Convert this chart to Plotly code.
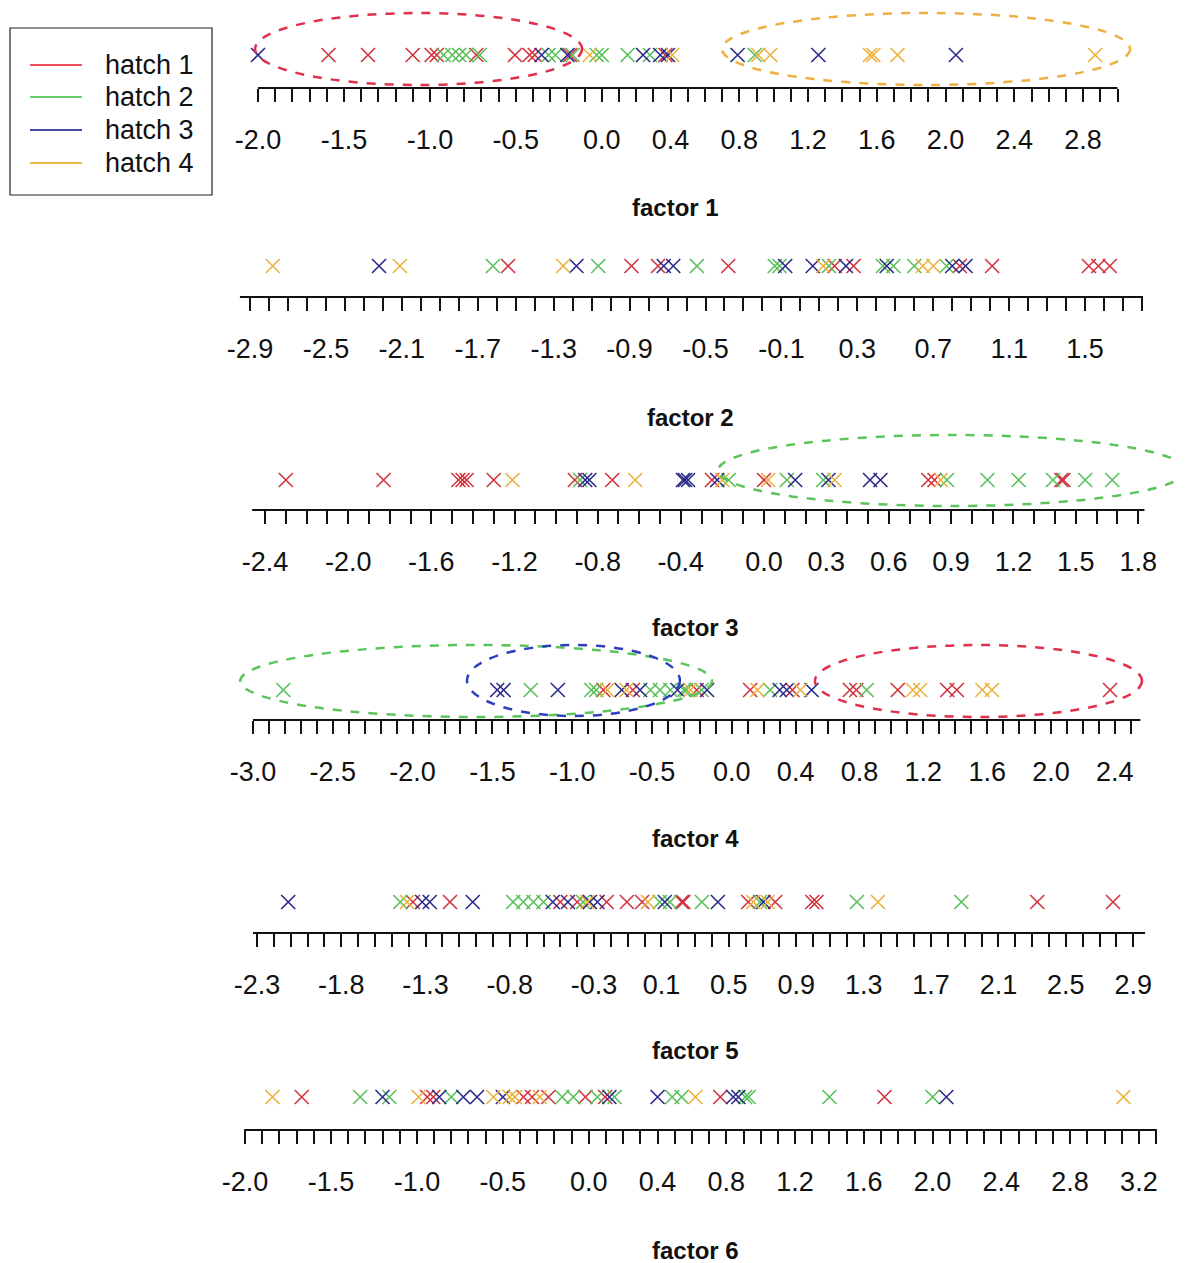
import numpy as np
import plotly.graph_objects as go

W, H = 1187, 1263
OX, OY = 8, 8  # page body margin offset

hatch_names = ["hatch 1", "hatch 2", "hatch 3", "hatch 4"]
marker_colors = ["#d3323e", "#58c058", "#2a2a8a", "#ebb23a"]
legend_colors = ["#f05058", "#6ccc6c", "#4b4ba6", "#f0b840"]

# ---- data: factor scores per hatch (red, green, blue, orange) ----
f1_h1 = [-1.59, -1.36, -1.10, -0.99, -0.96, -0.73, -0.505, -0.42, -0.39, -0.185, 0.37]
f1_h2 = [-0.92, -0.87, -0.83, -0.79, -0.71, -0.31, -0.27, -0.17, -0.03, 0.0, 0.15, 0.28, 0.89]
f1_h3 = [-2.0, -0.35, -0.20, 0.24, 0.34, 0.385, 0.79, 1.26, 2.06]
f1_h4 = [-0.07, 0.41, 0.91, 0.98, 1.56, 1.58, 1.72, 2.87]

f2_h1 = [-1.54, -0.89, -0.75, -0.38, 0.18, 0.28, 0.84, 1.01, 1.52, 1.57, 1.63]
f2_h2 = [-1.62, -1.065, -0.545, -0.135, -0.11, 0.15, 0.435, 0.49, 0.60, 0.77]
f2_h3 = [-2.22, -1.18, -0.72, -0.67, -0.08, 0.065, 0.24, 0.455, 0.80, 0.87]
f2_h4 = [-2.78, -2.11, -1.25, 0.12, 0.645, 0.70]

f3_h1 = [-2.30, -1.83, -1.47, -1.45, -1.43, -1.30, -0.91, -0.73, -0.25, 0.0, 0.79, 0.82, 1.43, 1.44]
f3_h2 = [-0.885, -0.17, 0.11, 0.285, 0.88, 1.075, 1.225, 1.39, 1.545, 1.675]
f3_h3 = [-0.86, -0.84, -0.39, -0.38, -0.365, -0.225, 0.15, 0.31, 0.51, 0.56]
f3_h4 = [-1.21, -0.62, -0.20, 0.02, 0.34, 0.85]

f4_h1 = [-0.805, -0.62, -0.22, 0.115, 0.38, 0.74, 0.78, 1.04, 1.35, 1.41, 2.37]
f4_h2 = [-2.81, -1.26, -0.88, -0.85, -0.51, -0.45, -0.385, -0.30, -0.285, -0.19, 0.24, 0.845]
f4_h3 = [-1.47, -1.43, -1.09, -0.69, -0.575, -0.34, -0.155, 0.30, 0.345, 0.50]
f4_h4 = [-0.78, -0.66, -0.26, 0.16, 0.43, 1.135, 1.18, 1.57, 1.63]

f5_h1 = [-1.375, -1.155, -0.50, -0.40, -0.225, -0.105, -0.015, 0.22, 0.23, 0.615, 0.775, 0.995, 1.02, 2.33, 2.78]
f5_h2 = [-1.45, -0.78, -0.72, -0.66, -0.60, -0.365, 0.09, 0.15, 0.34, 0.685, 1.26, 1.88]
f5_h3 = [-2.115, -1.32, -1.275, -1.02, -0.545, -0.455, -0.325, -0.28, 0.12, 0.435, 0.705]
f5_h4 = [-1.41, -0.34, 0.02, 0.645, 0.73, 1.385]

f6_h1 = [-1.67, -0.94, -0.905, -0.38, -0.33, -0.235, -0.02, 0.095, 0.765, 1.72]
f6_h2 = [-1.33, -1.16, -0.80, -0.155, -0.09, 0.05, 0.15, 0.485, 0.54, 0.91, 0.93, 1.40, 2.0]
f6_h3 = [-1.20, -0.87, -0.73, -0.65, -0.50, 0.12, 0.40, 0.84, 0.87, 2.08]
f6_h4 = [-1.84, -0.99, -0.555, -0.46, -0.43, -0.285, 0.62, 3.11]

# ---- tick labels per factor ----
f1_labels = ["-2.0", "-1.5", "-1.0", "-0.5", "0.0", "0.4", "0.8", "1.2", "1.6", "2.0", "2.4", "2.8"]
f2_labels = ["-2.9", "-2.5", "-2.1", "-1.7", "-1.3", "-0.9", "-0.5", "-0.1", "0.3", "0.7", "1.1", "1.5"]
f3_labels = ["-2.4", "-2.0", "-1.6", "-1.2", "-0.8", "-0.4", "0.0", "0.3", "0.6", "0.9", "1.2", "1.5", "1.8"]
f4_labels = ["-3.0", "-2.5", "-2.0", "-1.5", "-1.0", "-0.5", "0.0", "0.4", "0.8", "1.2", "1.6", "2.0", "2.4"]
f5_labels = ["-2.3", "-1.8", "-1.3", "-0.8", "-0.3", "0.1", "0.5", "0.9", "1.3", "1.7", "2.1", "2.5", "2.9"]
f6_labels = ["-2.0", "-1.5", "-1.0", "-0.5", "0.0", "0.4", "0.8", "1.2", "1.6", "2.0", "2.4", "2.8", "3.2"]

factor_titles = ["factor 1", "factor 2", "factor 3", "factor 4", "factor 5", "factor 6"]
factor_data = [
    [f1_h1, f1_h2, f1_h3, f1_h4],
    [f2_h1, f2_h2, f2_h3, f2_h4],
    [f3_h1, f3_h2, f3_h3, f3_h4],
    [f4_h1, f4_h2, f4_h3, f4_h4],
    [f5_h1, f5_h2, f5_h3, f5_h4],
    [f6_h1, f6_h2, f6_h3, f6_h4],
]
factor_labels = [f1_labels, f2_labels, f3_labels, f4_labels, f5_labels, f6_labels]

# ---- layout geometry per panel (page pixels / scale) ----
panels = [
    dict(zero=601.8, scale=171.9, mark=55, axis=88, title_x=675, title_y=208, tick0=-2.0, tick1=3.0, line=(-2.0, 3.0)),
    dict(zero=800.4, scale=189.8, mark=266, axis=297, title_x=690, title_y=417, tick0=-2.9, tick1=1.8, line=(-2.953, 1.805)),
    dict(zero=764.0, scale=207.9, mark=480, axis=510, title_x=695, title_y=627, tick0=-2.4, tick1=1.8, line=(-2.462, 1.83)),
    dict(zero=731.8, scale=159.6, mark=690, axis=720, title_x=695, title_y=838, tick0=-3.0, tick1=2.5, line=(-3.0, 2.56)),
    dict(zero=644.6, scale=168.5, mark=902, axis=933, title_x=695, title_y=1050, tick0=-2.3, tick1=2.9, line=(-2.324, 2.97)),
    dict(zero=588.8, scale=171.9, mark=1097, axis=1130, title_x=695, title_y=1250, tick0=-2.0, tick1=3.3, line=(-2.005, 3.305)),
]

# dashed ellipses: (panel index, x from, x to, top px, bottom px, color)
ellipses = [
    (0, -2.017, -0.115, 13, 85, "#e0304c"),
    (0, 0.699, 3.073, 13, 85, "#eeb040"),
    (2, -0.221, 2.03, 435, 506, "#5cc45c"),
    (3, -3.08, -0.124, 645, 717, "#5cc45c"),
    (3, -1.659, -0.325, 645, 716, "#2f3fc0"),
    (3, 0.521, 2.57, 645, 717, "#e0304c"),
]

FONT = "Liberation Sans, Arial, sans-serif"


def px(x):
    return (x - OX) / W


def py(y):
    return min(1.0, max(0.0, 1 - (y - OY) / H))


fig = go.Figure()
layout = dict(
    width=W, height=H, margin=dict(l=0, r=0, t=0, b=0),
    paper_bgcolor="white", plot_bgcolor="white",
    font=dict(family=FONT, color="#111111"),
    showlegend=False,
)
shapes = []
annotations = []

for i, p in enumerate(panels):
    n = "" if i == 0 else str(i + 1)
    xa, ya = "x" + n, "y" + n
    top_px = max(p["mark"] - 50, OY)
    zero = p["zero"] - OX
    for k in range(4):
        xs = factor_data[i][k]
        fig.add_trace(go.Scatter(
            x=xs, y=[0] * len(xs), mode="markers", xaxis=xa, yaxis=ya,
            name=hatch_names[k], hoverinfo="x+name",
            marker=dict(symbol="x-thin", size=14, color=marker_colors[k],
                        line=dict(width=1.6, color=marker_colors[k])),
        ))
    tv = np.round(np.arange(round(p["tick0"] * 10), round(p["tick1"] * 10) + 1) / 10.0, 1)
    labs = {round(float(s), 1): s for s in factor_labels[i]}
    tt = [labs.get(round(float(v), 1), "") for v in tv]
    layout["xaxis" + n] = dict(
        domain=[0, 1], anchor=ya,
        range=[-zero / p["scale"], (W - zero) / p["scale"]],
        tickmode="array", tickvals=list(tv), ticktext=tt,
        ticks="outside", ticklen=13, tickwidth=1.6, tickcolor="#111111",
        showline=False, showgrid=False, zeroline=False,
        tickfont=dict(size=27, family=FONT, color="#111111"),
        ticklabelstandoff=15, fixedrange=True,
    )
    layout["yaxis" + n] = dict(
        domain=[py(p["axis"]), py(top_px)], anchor=xa,
        range=[-(p["axis"] - p["mark"]), p["mark"] - top_px],
        visible=False, fixedrange=True,
    )
    shapes.append(dict(type="line", xref=xa, yref=ya + " domain",
                       x0=p["line"][0], x1=p["line"][1], y0=0, y1=0,
                       line=dict(color="#111111", width=2)))
    annotations.append(dict(
        text="<b>" + factor_titles[i] + "</b>", xref="paper", yref="paper",
        x=px(p["title_x"]), y=py(p["title_y"]), xanchor="center", yanchor="middle",
        showarrow=False, font=dict(size=24, family=FONT, color="#111111"),
    ))

for (pi, xa0, xa1, ytop, ybot, col) in ellipses:
    p = panels[pi]
    n = "" if pi == 0 else str(pi + 1)
    shapes.append(dict(type="circle", xref="x" + n, yref="y" + n,
                       x0=xa0, x1=xa1, y0=p["mark"] - ybot, y1=p["mark"] - ytop,
                       line=dict(color=col, width=2.5, dash="dash"), layer="above"))

# legend box (drawn)
shapes.append(dict(type="rect", xref="paper", yref="paper",
                   x0=px(10), x1=px(212), y0=py(195), y1=py(28),
                   line=dict(color="#222222", width=1.2), fillcolor="white", layer="below"))
legend_rows = [65, 97, 130, 163]
for k in range(4):
    shapes.append(dict(type="line", xref="paper", yref="paper",
                       x0=px(30), x1=px(82), y0=py(legend_rows[k]), y1=py(legend_rows[k]),
                       line=dict(color=legend_colors[k], width=2)))
    annotations.append(dict(
        text=hatch_names[k], xref="paper", yref="paper",
        x=px(103), y=py(legend_rows[k]), xanchor="left", yanchor="middle",
        showarrow=False, font=dict(size=27, family=FONT, color="#111111"),
    ))

layout["shapes"] = shapes
layout["annotations"] = annotations
fig.update_layout(**layout)
fig.write_html("out.html")
